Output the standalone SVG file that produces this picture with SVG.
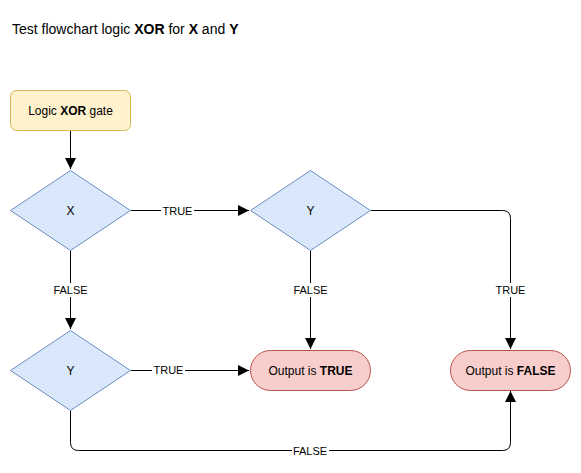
<svg xmlns="http://www.w3.org/2000/svg" width="581" height="473" viewBox="0 0 581 473">
<style>
text{font-family:"Liberation Sans",Arial,sans-serif;fill:#000}
.t{font-size:12px;text-anchor:middle;dominant-baseline:central}
.l{font-size:11px;text-anchor:middle;dominant-baseline:central}
.e{fill:none;stroke:#000;stroke-width:1}
.d{fill:#dae8fc;stroke:#6c8ebf}
.o{fill:#f8cecc;stroke:#b85450}
.lb{fill:#fff}
</style>
<defs>
<marker id="a" viewBox="0 0 12 12" refX="11" refY="6" markerWidth="12" markerHeight="12" markerUnits="userSpaceOnUse" orient="auto">
<path d="M0,0.5 L11,6 L0,11.5 Z" fill="#000"/>
</marker>
</defs>
<rect width="581" height="473" fill="#fff"/>
<text x="12" y="34" font-size="14">Test flowchart logic <tspan font-weight="bold">XOR</tspan> for <tspan font-weight="bold">X</tspan> and <tspan font-weight="bold">Y</tspan></text>
<g id="edges">
<path class="e" d="M70.5,130.5 V169" marker-end="url(#a)"/>
<path class="e" d="M130.5,210.5 H249" marker-end="url(#a)"/>
<path class="e" d="M70.5,250.5 V329" marker-end="url(#a)"/>
<path class="e" d="M370.5,210.5 H502.5 Q510.5,210.5 510.5,218.5 V349" marker-end="url(#a)"/>
<path class="e" d="M310.5,250.5 V349" marker-end="url(#a)"/>
<path class="e" d="M130.5,370.5 H249" marker-end="url(#a)"/>
<path class="e" d="M70.5,410.5 V442.5 Q70.5,450.5 78.5,450.5 H502.5 Q510.5,450.5 510.5,442.5 V391" marker-end="url(#a)"/>
<rect class="lb" x="161" y="203" width="33" height="14"/>
<text class="l" x="177.5" y="210.5">TRUE</text>
<rect class="lb" x="52" y="283" width="37" height="14"/>
<text class="l" x="70.5" y="290">FALSE</text>
<rect class="lb" x="494" y="283" width="33" height="14"/>
<text class="l" x="510.5" y="290">TRUE</text>
<rect class="lb" x="292" y="283" width="37" height="14"/>
<text class="l" x="310.5" y="290">FALSE</text>
<rect class="lb" x="152" y="363" width="33" height="14"/>
<text class="l" x="168.5" y="370">TRUE</text>
<rect class="lb" x="292" y="443" width="37" height="14"/>
<text class="l" x="310" y="450.5">FALSE</text>
</g>
<g id="start">
<rect x="10.5" y="90.5" width="120" height="40" rx="6" fill="#fff2cc" stroke="#d6b656"/>
<text class="t" x="70.5" y="110.5">Logic <tspan font-weight="bold">XOR</tspan> gate</text>
</g>
<g id="decisionX">
<path class="d" d="M70.5,170.5 L130.5,210.5 L70.5,250.5 L10.5,210.5 Z"/>
<text class="t" x="70.5" y="210.5">X</text>
</g>
<g id="decisionY1">
<path class="d" d="M310.5,170.5 L370.5,210.5 L310.5,250.5 L250.5,210.5 Z"/>
<text class="t" x="310.5" y="210.5">Y</text>
</g>
<g id="decisionY2">
<path class="d" d="M70.5,330.5 L130.5,370.5 L70.5,410.5 L10.5,370.5 Z"/>
<text class="t" x="70.5" y="370.5">Y</text>
</g>
<g id="outTrue">
<rect class="o" x="250.5" y="350.5" width="120" height="40" rx="20"/>
<text class="t" x="310.5" y="370.5">Output is <tspan font-weight="bold">TRUE</tspan></text>
</g>
<g id="outFalse">
<rect class="o" x="450.5" y="350.5" width="120" height="40" rx="20"/>
<text class="t" x="510.5" y="370.5">Output is <tspan font-weight="bold">FALSE</tspan></text>
</g>
</svg>
